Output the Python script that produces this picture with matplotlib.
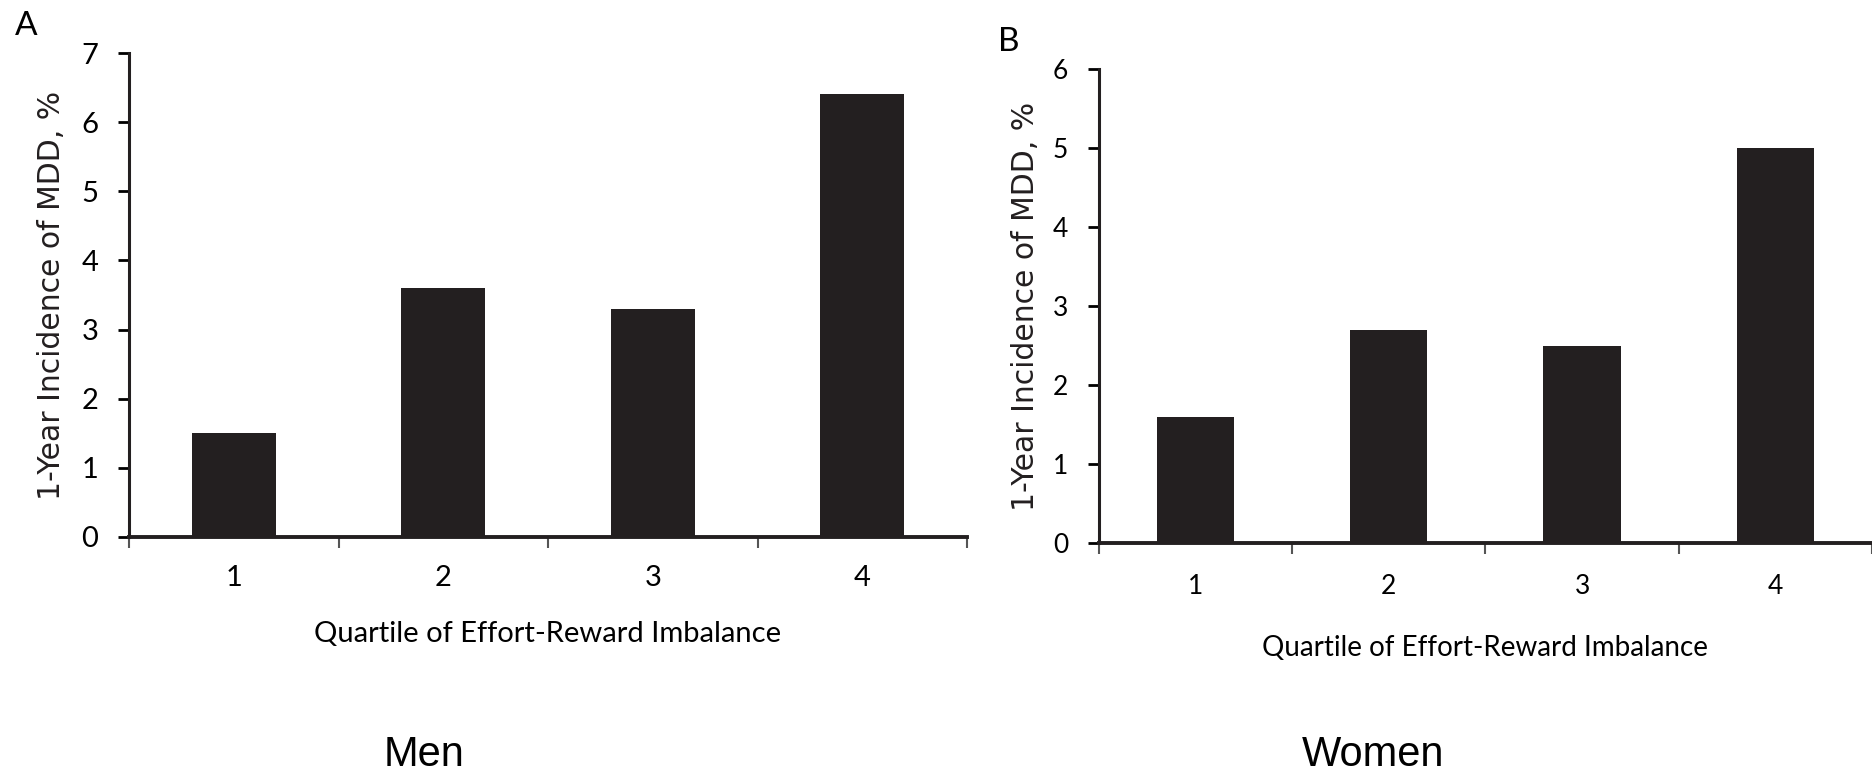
import matplotlib.pyplot as plt
import numpy as np

# data
quartiles = ["1", "2", "3", "4"]
men = [1.5, 3.6, 3.3, 6.4]
women = [1.6, 2.7, 2.5, 5.0]

bar_color = "#231f20"
label_font = "Lato"
ylabel_font = "DejaVu Sans"

fig = plt.figure(figsize=(18.72, 7.76), dpi=100)

# =========================
# PANEL A (MEN)
# =========================
axA = fig.add_axes([0.0689, 0.308, 0.4477, 0.6237])
# =========================
# PANEL B (WOMEN)
# =========================
axB = fig.add_axes([0.587, 0.3003, 0.413, 0.6107])


def style_axis(ax, values, ymax, fs, xfs, xpad, xlpad, ylx):
    x = np.arange(len(values))
    ax.bar(x, values, width=0.4, color=bar_color, zorder=2)
    ax.set_xlim(-0.5, len(values) - 0.5)
    ax.set_ylim(0, ymax)
    for s in ["top", "right"]:
        ax.spines[s].set_visible(False)
    ax.spines["left"].set_linewidth(2.2)
    ax.spines["bottom"].set_linewidth(2.8)
    ax.spines["left"].set_color("#231f20")
    ax.spines["bottom"].set_color("#231f20")

    # boundary ticks (no label) and category labels
    ax.set_xticks(np.arange(len(values) + 1) - 0.5)
    ax.set_xticklabels([])
    ax.set_xticks(x, minor=True)
    ax.set_xticklabels(quartiles, minor=True, fontsize=fs, family=label_font)
    ax.tick_params(axis="x", which="major", direction="out", length=8, width=1.5, color="#555555")
    ax.tick_params(axis="x", which="minor", length=0, pad=xpad)

    ax.set_yticks(range(0, ymax + 1))
    ax.set_yticklabels([str(v) for v in range(0, ymax + 1)], fontsize=fs, family=label_font)
    ax.tick_params(axis="y", direction="out", length=8, width=2, pad=14)

    ax.set_ylabel("1-Year Incidence of MDD, %", fontsize=21.5, family=ylabel_font, color="#231f20")
    ax.yaxis.set_label_coords(ylx, 0.5)
    ax.set_xlabel("Quartile of Effort-Reward Imbalance", fontsize=xfs, family=label_font, labelpad=xlpad)


style_axis(axA, men, 7, 21, 21, 20, 22, (66 - 129) / 838)
style_axis(axB, women, 6, 19, 20, 22, 26, (1040 - 1099) / 773)

fig.text(26 / 1872, 1 - 26 / 776, "A", fontsize=24, family=label_font, ha="center", va="center")
fig.text(1009 / 1872, 1 - 42 / 776, "B", fontsize=24, family=label_font, ha="center", va="center")

fig.text(424 / 1872, 1 - 755 / 776, "Men", fontsize=30, family="Liberation Sans", ha="center", va="center")
fig.text(1373 / 1872, 1 - 755 / 776, "Women", fontsize=30, family="Liberation Sans", ha="center", va="center")

plt.savefig("out.png", dpi=100)
plt.close()
